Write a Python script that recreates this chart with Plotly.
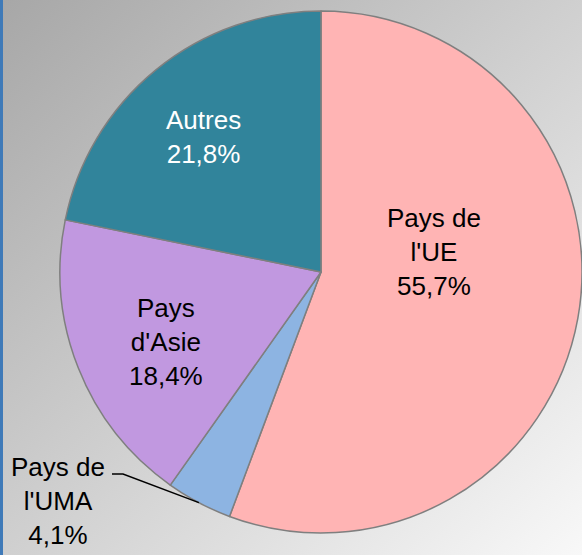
import base64
import math
import plotly.graph_objects as go

# ---- data ----
labels = ["Pays de<br>l'UE", "Pays de<br>l'UMA", "Pays<br>d'Asie", "Autres"]
values = [55.7, 4.1, 18.4, 21.8]
colors = ["#ffb4b4", "#8db4e2", "#c198e0", "#31849b"]
text_colors = ["black", "black", "black", "white"]

W, H = 582, 555
cx, cy, r = 321, 272, 261  # pixel geometry of pie

# label block centres (pixels)
label_pos = [(434, 252), (58, 501), (166, 342), (203, 137)]

dom_x = [(cx - r) / W, (cx + r) / W]
dom_y = [(H - cy - r) / H, (H - cy + r) / H]

FONT = "Liberation Sans, Arial"

fig = go.Figure(go.Pie(
    labels=labels,
    values=values,
    sort=False,
    direction="clockwise",
    rotation=0,
    marker=dict(colors=colors, line=dict(color="#7f7f7f", width=1.5)),
    textinfo="none",
    hoverinfo="label+percent",
    domain=dict(x=dom_x, y=dom_y),
    showlegend=False,
))

# gradient background via inline svg
svg = ('<svg xmlns="http://www.w3.org/2000/svg" width="582" height="555" preserveAspectRatio="none">'
       '<defs><linearGradient id="g" x1="0" y1="0" x2="1" y2="1">'
       '<stop offset="0" stop-color="#a7a7a7"/><stop offset="1" stop-color="#f8f8f8"/>'
       '</linearGradient></defs><rect width="582" height="555" fill="url(#g)"/></svg>')
src = "data:image/svg+xml;base64," + base64.b64encode(svg.encode()).decode()

def px(x):
    return x / W

def py(y):
    return 1 - y / H

# leader line for small slice, end point computed from data
total = sum(values)
mid = (sum(values[:1]) + values[1] / 2) / total * 2 * math.pi
ex = cx + r * math.sin(mid)
ey = cy - r * math.cos(mid)
lx0, lx1, ly = 112, 123, 474

annotations = []
for lab, val, col, (ax_, ay_) in zip(labels, values, text_colors, label_pos):
    annotations.append(dict(
        text=f"{lab}<br>" + f"{val:.1f}".replace(".", ",") + "%",
        xref="paper", yref="paper", x=px(ax_), y=py(ay_),
        xanchor="center", yanchor="middle", showarrow=False,
        font=dict(size=26, color=col, family=FONT)))

fig.update_layout(
    width=W, height=H,
    margin=dict(l=0, r=0, t=0, b=0),
    paper_bgcolor="#d0d0d0",
    font=dict(family=FONT, size=26, color="black"),
    images=[dict(source=src, xref="paper", yref="paper", x=0, y=1, sizex=1, sizey=1,
                 xanchor="left", yanchor="top", sizing="stretch", layer="below")],
    shapes=[
        dict(type="rect", xref="paper", yref="paper", x0=0, x1=px(3), y0=0, y1=1,
             fillcolor="#3f7ab8", line=dict(width=0), layer="above"),
        dict(type="path", xref="paper", yref="paper",
             path=f"M {px(lx0)},{py(ly)} L {px(lx1)},{py(ly)} L {px(ex)},{py(ey)}",
             line=dict(color="black", width=1.5)),
    ],
    annotations=annotations,
)

fig.write_html("out.html", config={"displayModeBar": False},
               post_script="document.body.style.margin='0px';")
